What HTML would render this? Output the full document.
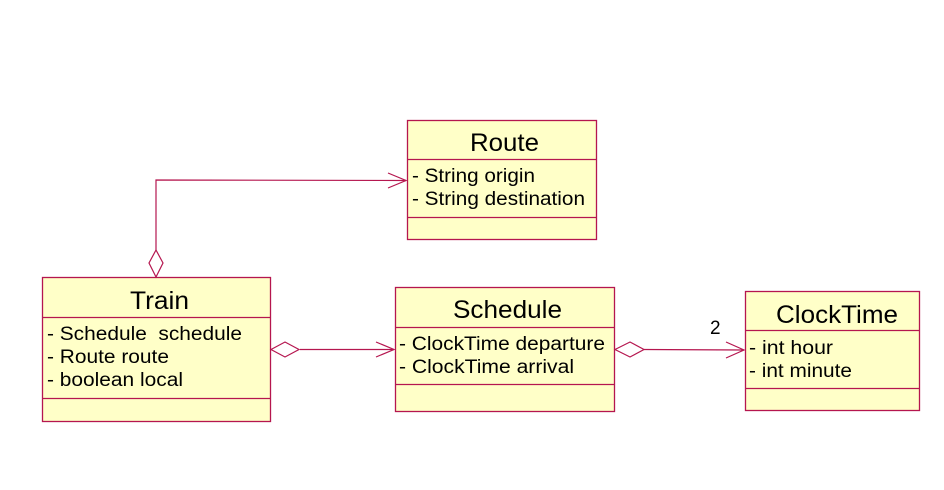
<!DOCTYPE html>
<html><head><style>html,body{margin:0;padding:0;background:#fff;}svg{display:block}</style></head>
<body>
<svg width="944" height="490" xmlns="http://www.w3.org/2000/svg" font-family="Liberation Sans, Arial, sans-serif">
<g fill="#ffffc8" stroke="#b5164f" stroke-width="1.3">
<rect x="407.5" y="120.5" width="189" height="119"/>
<line x1="407" y1="159.5" x2="596" y2="159.5"/><line x1="407" y1="217.5" x2="596" y2="217.5"/>
<rect x="42.5" y="277.5" width="228" height="144"/>
<line x1="42" y1="317.5" x2="270" y2="317.5"/><line x1="42" y1="398.5" x2="270" y2="398.5"/>
<rect x="395.5" y="287.5" width="219" height="124"/>
<line x1="395" y1="327.5" x2="614" y2="327.5"/><line x1="395" y1="384.5" x2="614" y2="384.5"/>
<rect x="745.5" y="291.5" width="174" height="119"/>
<line x1="745" y1="330.5" x2="919" y2="330.5"/><line x1="745" y1="388.5" x2="919" y2="388.5"/>
</g>
<g fill="none" stroke="#b5164f" stroke-width="1.2">
<polyline points="156,250 156,180 406,180.5"/>
<polygon points="156,277 149,263 156,250 163,263" fill="#fff"/>
<polyline points="388,173 406,180.5 388,188"/>
<line x1="300" y1="349.5" x2="394" y2="349.5"/>
<polygon points="271,349.5 285,342 299,349.5 285,357" fill="#fff"/>
<polyline points="376,342 394,349.5 376,357"/>
<line x1="644" y1="349.5" x2="744" y2="350"/>
<polygon points="615,349.5 630,342 644,349.5 630,357" fill="#fff"/>
<polyline points="726,342 744,350 726,358"/>
</g>
<g fill="#000" font-size="25" lengthAdjust="spacingAndGlyphs">
<text x="470" y="151" textLength="69" lengthAdjust="spacingAndGlyphs">Route</text>
<text x="130" y="309" textLength="59" lengthAdjust="spacingAndGlyphs">Train</text>
<text x="453" y="318" textLength="109" lengthAdjust="spacingAndGlyphs">Schedule</text>
<text x="776" y="323" textLength="122" lengthAdjust="spacingAndGlyphs">ClockTime</text>
</g>
<g fill="#000" font-size="19">
<text x="412" y="182" textLength="123" lengthAdjust="spacingAndGlyphs">- String origin</text>
<text x="412" y="205" textLength="173" lengthAdjust="spacingAndGlyphs">- String destination</text>
<text x="47" y="340" textLength="195" lengthAdjust="spacingAndGlyphs" xml:space="preserve">- Schedule  schedule</text>
<text x="47" y="363" textLength="122" lengthAdjust="spacingAndGlyphs">- Route route</text>
<text x="47" y="386" textLength="136" lengthAdjust="spacingAndGlyphs">- boolean local</text>
<text x="399" y="350" textLength="206" lengthAdjust="spacingAndGlyphs">- ClockTime departure</text>
<text x="399" y="373" textLength="175" lengthAdjust="spacingAndGlyphs">- ClockTime arrival</text>
<text x="749" y="354" textLength="84" lengthAdjust="spacingAndGlyphs">- int hour</text>
<text x="749" y="377" textLength="103" lengthAdjust="spacingAndGlyphs">- int minute</text>
<text x="710" y="334">2</text>
</g>
</svg>
</body></html>
